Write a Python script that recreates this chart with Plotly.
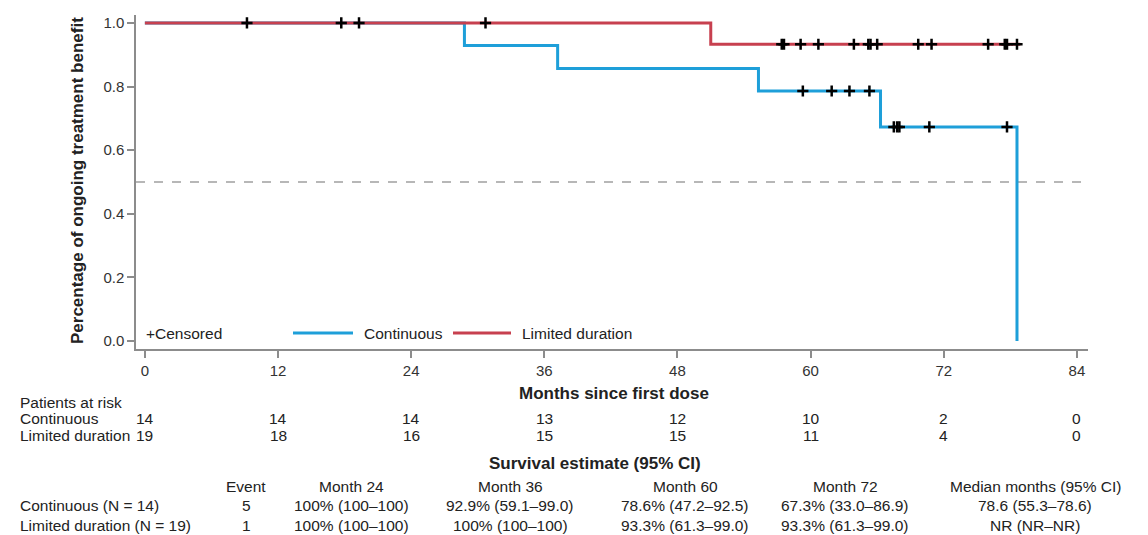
import plotly.graph_objects as go

# ---- Kaplan-Meier step data (months, survival proportion) ----
cont_step_t = [0, 28.8, 37.2, 55.3, 66.3, 78.6]
cont_step_s = [1.0, 0.929, 0.857, 0.786, 0.673, 0.0]
cont_censor_t = [59.3, 61.9, 63.5, 65.3, 67.5, 67.8, 68.0, 70.7, 77.7]

lim_step_t = [0, 51.0, 78.9]
lim_step_s = [1.0, 0.933, 0.933]
lim_censor_t = [9.2, 17.7, 19.3, 30.7, 57.4, 57.6, 59.1, 60.7, 63.9, 65.2, 65.4,
                66.0, 69.7, 70.9, 76.0, 77.5, 77.7, 78.6]

# ---- Patients at risk ----
risk_months = [0, 12, 24, 36, 48, 60, 72, 84]
risk_cont = [14, 14, 14, 13, 12, 10, 2, 0]
risk_lim = [19, 18, 16, 15, 15, 11, 4, 0]

# ---- Survival estimate table ----
surv_headers = ["Event", "Month 24", "Month 36", "Month 60", "Month 72", "Median months (95% CI)"]
surv_cont = ["5", "100% (100–100)", "92.9% (59.1–99.0)", "78.6% (47.2–92.5)",
             "67.3% (33.0–86.9)", "78.6 (55.3–78.6)"]
surv_lim = ["1", "100% (100–100)", "100% (100–100)", "93.3% (61.3–99.0)",
            "93.3% (61.3–99.0)", "NR (NR–NR)"]
row_labels = ["Continuous (N = 14)", "Limited duration (N = 19)"]

BLUE = "#1E9FD9"
RED = "#C7404F"
FONT = "Liberation Sans, Arial, sans-serif"
TXT = "#222222"
BODY = 15.5
TITLE = 17

W, H = 1148, 535
L, R, T, B = 136, 60, 15, 186
PW, PH = W - L - R, H - T - B


def px(x):
    return (x - L) / PW


def py(y):
    return (H - B - y) / PH


def surv_at(t, st, ss):
    val = ss[0]
    for a, b in zip(st, ss):
        if t >= a:
            val = b
    return val


def text(s, x, y, xref="paper", yref="paper", xanchor="center", size=BODY, **kw):
    return dict(text=s, x=x, y=y, xref=xref, yref=yref, xanchor=xanchor, yanchor="middle",
                showarrow=False, font=dict(size=size, color=TXT, family=FONT), **kw)


fig = go.Figure()

fig.add_trace(go.Scatter(x=cont_step_t, y=cont_step_s, mode="lines", line_shape="hv",
                         line=dict(color=BLUE, width=3), showlegend=False, hoverinfo="skip"))
fig.add_trace(go.Scatter(x=lim_step_t, y=lim_step_s, mode="lines", line_shape="hv",
                         line=dict(color=RED, width=3), showlegend=False, hoverinfo="skip"))

cens_style = dict(symbol="cross-thin", size=8, color="black", line=dict(color="black", width=2.5))
fig.add_trace(go.Scatter(x=cont_censor_t,
                         y=[surv_at(t, cont_step_t, cont_step_s) for t in cont_censor_t],
                         mode="markers", marker=cens_style, showlegend=False, hoverinfo="skip"))
fig.add_trace(go.Scatter(x=lim_censor_t,
                         y=[surv_at(t, lim_step_t, lim_step_s) for t in lim_censor_t],
                         mode="markers", marker=cens_style, showlegend=False, hoverinfo="skip"))

# median reference line
fig.add_shape(type="line", xref="paper", yref="y", x0=0, x1=1, y0=0.5, y1=0.5,
              line=dict(color="#A0A0A0", width=1.5, dash="dash"), layer="below")

ann = []

# in-plot legend
ann.append(text("+Censored", px(144), 0.025, yref="y", xanchor="left"))
fig.add_shape(type="line", xref="paper", yref="y", x0=px(293), x1=px(353), y0=0.025, y1=0.025,
              line=dict(color=BLUE, width=3))
ann.append(text("Continuous", px(362), 0.025, yref="y", xanchor="left"))
fig.add_shape(type="line", xref="paper", yref="y", x0=px(453), x1=px(511), y0=0.025, y1=0.025,
              line=dict(color=RED, width=3))
ann.append(text("Limited duration", px(520), 0.025, yref="y", xanchor="left"))

# axis titles
ann.append(text("<b>Months since first dose</b>", px(614), py(393), size=TITLE))
ann.append(text("<b>Percentage of ongoing treatment benefit</b>", px(77), py(181), size=TITLE,
                textangle=-90))

# patients at risk
ann.append(text("Patients at risk", px(18), py(402), xanchor="left"))
for label, vals, ypx in (("Continuous", risk_cont, 418), ("Limited duration", risk_lim, 436)):
    ann.append(text(label, px(18), py(ypx), xanchor="left"))
    for m, v in zip(risk_months, vals):
        ann.append(text(str(v), m, py(ypx), xref="x"))

# survival estimate table
ann.append(text("<b>Survival estimate (95% CI)</b>", px(595), py(464), size=TITLE))
col_x = [246, 351, 510, 685, 845, 1035]
for cx, h in zip(col_x, surv_headers):
    ann.append(text(h, px(cx), py(486)))
for label, vals, ypx in ((row_labels[0], surv_cont, 506), (row_labels[1], surv_lim, 525)):
    ann.append(text(label, px(18), py(ypx), xanchor="left"))
    for cx, v in zip(col_x, vals):
        ann.append(text(v, px(cx), py(ypx)))

axis_common = dict(showgrid=False, zeroline=False, showline=True, linecolor="#8C8C8C", linewidth=1.5,
                   ticks="outside", ticklen=7, tickwidth=1.5, tickcolor="#8C8C8C",
                   tickfont=dict(size=15, color="#333333", family=FONT))

fig.update_layout(
    width=W, height=H,
    margin=dict(l=L, r=R, t=T, b=B),
    paper_bgcolor="white", plot_bgcolor="white",
    xaxis=dict(range=[-0.8, 85.0], tickvals=risk_months, **axis_common),
    yaxis=dict(range=[-0.025, 1.025], tickvals=[0, 0.2, 0.4, 0.6, 0.8, 1.0],
               ticktext=["0.0", "0.2", "0.4", "0.6", "0.8", "1.0"], **axis_common),
    annotations=ann,
)

fig.write_html("out.html")
